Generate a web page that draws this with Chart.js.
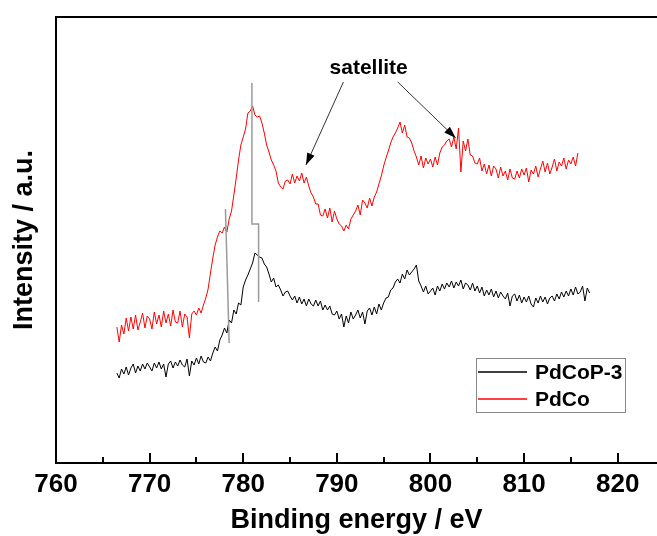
<!DOCTYPE html>
<html>
<head>
<meta charset="utf-8">
<title>Pd XPS spectra</title>
<script src="https://cdn.jsdelivr.net/npm/chart.js@4.4.1/dist/chart.umd.min.js"></script>
<style>
  html, body { margin: 0; padding: 0; background: #fff; }
  #wrap { width: 657px; height: 536px; }
</style>
</head>
<body>
<div id="wrap"><canvas id="xps" width="657" height="536"></canvas></div>
<script>
// scan grid of the spectra (eV)
const scanStart = 766.5;
const scanStep = 0.25;

// PdCoP-3 (black), one row per eV
const pdcop3 = [
  90, 85,
  94, 89, 96, 88,
  95, 99, 90, 97,
  92, 99, 94, 100,
  96, 92, 100, 95,
  101, 94, 99, 86,
  99, 102, 95, 101,
  97, 103, 98, 96,
  104, 87, 102, 98,
  105, 99, 107, 101,
  100, 106, 102, 110,
  116, 112, 123, 128,
  135, 130, 143, 140,
  153, 149, 160, 158,
  176, 183, 188, 194,
  200, 210, 208, 206,
  205, 199, 196, 189,
  181, 185, 176, 178,
  173, 167, 171, 172,
  167, 163, 167, 160,
  166, 159, 164, 157,
  164, 159, 157, 163,
  157, 162, 153, 158,
  153, 157, 149, 148,
  152, 144, 149, 136,
  147, 140, 151, 144,
  148, 153, 145, 151,
  139, 152, 155, 148,
  156, 149, 159, 153,
  160, 165, 166, 173,
  175, 181, 184, 180,
  189, 184, 193, 188,
  191, 194, 198, 182,
  177, 171, 177, 169,
  172, 175, 168, 177,
  172, 179, 174, 180,
  176, 182, 175, 181,
  177, 183, 174, 180,
  178, 173, 180, 172,
  177, 170, 176, 167,
  173, 168, 174, 166,
  172, 165, 171, 167,
  164, 170, 157, 167,
  169, 162, 168, 160,
  166, 161, 167, 159,
  156, 165, 160, 167,
  161, 166, 159, 165,
  167, 162, 169, 164,
  171, 166, 172, 167,
  174, 168, 176, 169,
  171, 177, 162, 175,
  170
];

// PdCo (red)
const pdco = [
  136, 121,
  138, 129, 145, 132,
  146, 134, 148, 133,
  141, 150, 135, 147,
  144, 134, 151, 139,
  148, 136, 152, 140,
  149, 137, 153, 141,
  140, 152, 136, 149,
  146, 125, 149, 152,
  148, 155, 150, 158,
  165, 174, 190, 205,
  218, 226, 232, 230,
  236, 231, 244, 252,
  268, 285, 303, 318,
  326, 334, 350, 352,
  357, 348, 346, 347,
  340, 330, 318, 311,
  303, 298, 292, 280,
  276, 274, 282, 283,
  279, 289, 280, 287,
  282, 290, 280, 286,
  277, 270, 266, 259,
  259, 248, 247, 254,
  245, 255, 241, 252,
  244, 239, 237, 232,
  238, 234, 244, 248,
  252, 258, 248, 263,
  260, 255, 265, 257,
  266, 271, 279, 287,
  297, 305, 312, 320,
  326, 330, 335, 341,
  330, 338, 326, 325,
  320, 312, 306, 298,
  307, 295, 305, 299,
  304, 296, 306, 298,
  310, 316, 318, 322,
  324, 316, 326, 314,
  335, 291, 322, 312,
  324, 308, 307, 300,
  299, 305, 292, 299,
  289, 298, 287, 297,
  294, 285, 296, 287,
  292, 283, 294, 285,
  284, 292, 285, 294,
  288, 295, 281, 293,
  289, 297, 286, 294,
  302, 291, 300, 289,
  296, 304, 292, 301,
  297, 305, 294, 303,
  299, 306, 297, 310
];

// thin gray drop lines left in the original figure
const dropX = [778.1, 778.5, null, 780.93, 780.93, 781.64, 781.64];
const dropY = [254, 120, null, 380, 239, 239, 161];

// "satellite" note and its two arrows (eV, intensity)
const noteText = 'satellite';
const noteAt = [793.4, 395];
const arrowFrom = [[790.7, 381], [796.5, 381]];
const arrowTo = [[786.7, 298], [802.7, 325]];

const fontFamily = '"Liberation Sans", Arial, Helvetica, sans-serif';

const energies = pdcop3.map((_, i) => scanStart + i * scanStep);
const toPoints = (vals) => vals.map((v, i) => ({ x: energies[i], y: v }));
const dropPoints = dropX.map((x, i) => ({ x: x === null ? 779.5 : x, y: dropY[i] }));

function drawArrow(ctx, x0, y0, x1, y1) {
  ctx.strokeStyle = '#333';
  ctx.lineWidth = 1;
  ctx.beginPath();
  ctx.moveTo(x0, y0);
  ctx.lineTo(x1, y1);
  ctx.stroke();
  const ang = Math.atan2(y1 - y0, x1 - x0);
  const len = 12, half = 4;
  const bx = x1 - len * Math.cos(ang), by = y1 - len * Math.sin(ang);
  ctx.fillStyle = '#000';
  ctx.beginPath();
  ctx.moveTo(x1, y1);
  ctx.lineTo(bx + half * Math.sin(ang), by - half * Math.cos(ang));
  ctx.lineTo(bx - half * Math.sin(ang), by + half * Math.cos(ang));
  ctx.closePath();
  ctx.fill();
}

// frame top line, inward ticks, note, arrows and boxed legend
const decorations = {
  id: 'decorations',
  afterDraw(chart) {
    const { ctx, chartArea: a, scales: { x, y } } = chart;
    ctx.save();
    ctx.strokeStyle = '#000';
    ctx.lineWidth = 2;
    ctx.beginPath();
    ctx.moveTo(a.left - 1, a.top);
    ctx.lineTo(a.right, a.top);
    ctx.stroke();

    for (let v = 765; v <= 820; v += 5) {
      const px = Math.round(x.getPixelForValue(v));
      const len = v % 10 === 0 ? 10 : 6;
      ctx.beginPath();
      ctx.moveTo(px, a.bottom);
      ctx.lineTo(px, a.bottom - len);
      ctx.stroke();
    }

    ctx.fillStyle = '#000';
    ctx.font = 'bold 21px ' + fontFamily;
    ctx.textAlign = 'center';
    ctx.textBaseline = 'middle';
    ctx.fillText(noteText, x.getPixelForValue(noteAt[0]), y.getPixelForValue(noteAt[1]));

    arrowFrom.forEach((p, i) => {
      drawArrow(ctx,
        x.getPixelForValue(p[0]), y.getPixelForValue(p[1]),
        x.getPixelForValue(arrowTo[i][0]), y.getPixelForValue(arrowTo[i][1]));
    });

    // legend box
    const entries = chart.data.datasets.filter(d => d.label);
    const box = { left: 476, top: 358, width: 149, height: 54 };
    ctx.strokeStyle = '#888';
    ctx.lineWidth = 1;
    ctx.strokeRect(box.left + 0.5, box.top + 0.5, box.width, box.height);
    ctx.font = 'bold 21px ' + fontFamily;
    ctx.textAlign = 'left';
    entries.forEach((d, i) => {
      const ly = box.top + 14 + i * 27;
      ctx.strokeStyle = d.borderColor;
      ctx.lineWidth = 1.5;
      ctx.beginPath();
      ctx.moveTo(box.left + 2, ly);
      ctx.lineTo(box.left + 51, ly);
      ctx.stroke();
      ctx.fillStyle = '#000';
      ctx.fillText(d.label, box.left + 59, ly + 1);
    });
    ctx.restore();
  }
};

new Chart(document.getElementById('xps'), {
  type: 'line',
  data: {
    datasets: [
      {
        data: dropPoints,
        borderColor: '#9a9a9a',
        borderWidth: 1.5,
        pointRadius: 0,
        spanGaps: false,
        order: 0
      },
      {
        label: 'PdCoP-3',
        data: toPoints(pdcop3),
        borderColor: '#000000',
        borderWidth: 1,
        pointRadius: 0,
        order: 1
      },
      {
        label: 'PdCo',
        data: toPoints(pdco),
        borderColor: '#ff0000',
        borderWidth: 1,
        pointRadius: 0,
        order: 2
      }
    ]
  },
  options: {
    responsive: false,
    animation: false,
    devicePixelRatio: 1,
    layout: { padding: { top: 17, right: 0, bottom: 0, left: 0 } },
    plugins: {
      legend: { display: false },
      tooltip: { enabled: false }
    },
    scales: {
      x: {
        type: 'linear',
        min: 760,
        max: 824.2,
        grid: { display: false, drawTicks: false },
        border: { display: true, color: '#000', width: 2 },
        ticks: {
          stepSize: 10,
          includeBounds: false,
          autoSkip: false,
          maxRotation: 0,
          color: '#000',
          padding: 9,
          font: { family: fontFamily, size: 26, weight: 'bold', lineHeight: 1 }
        },
        title: {
          display: true,
          text: 'Binding energy / eV',
          color: '#000',
          padding: { top: 0, bottom: 2 },
          font: { family: fontFamily, size: 27, weight: 'bold', lineHeight: 1 }
        },
        afterFit: (s) => { s.height = 73; }
      },
      y: {
        min: 0,
        max: 446,
        grid: { display: false, drawTicks: false },
        border: { display: true, color: '#000', width: 2 },
        ticks: { display: false },
        title: {
          display: true,
          text: 'Intensity / a.u.',
          color: '#000',
          padding: { top: 11, bottom: 0 },
          font: { family: fontFamily, size: 27, weight: 'bold', lineHeight: 1 }
        },
        afterFit: (s) => { s.width = 56; }
      }
    }
  },
  plugins: [decorations]
});
</script>
</body>
</html>
